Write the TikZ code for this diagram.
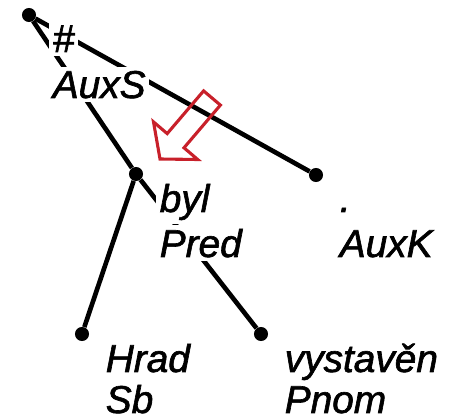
\documentclass[tikz,border=0pt]{standalone}
\usepackage{fontspec}
\setmainfont{Liberation Sans}
\newfontfamily\treefont[BoldFont=Liberation Sans Italic, BoldFeatures={FakeBold=1.6}]{Liberation Sans Italic}
\definecolor{markred}{RGB}{200,32,42}

\begin{document}
\begin{tikzpicture}[
  x=0.025cm, y=0.025cm,
  dot/.style={circle, fill=black, inner sep=0pt, minimum size=10pt},
  edge/.style={line width=3.3pt, black},
  lbl/.style={fill=white, inner sep=2.5pt, anchor=base west, font=\fontsize{27.6}{32}\selectfont\treefont\bfseries},
  pointer/.style={draw=markred, line width=2.2pt, line join=miter}
]
  \useasboundingbox (0,0) rectangle (450,-420);

  % tree nodes
  \node[dot] (root) at (29,-15) {};
  \node[dot] (byl)  at (136,-174) {};
  \node[dot] (auxk) at (316,-175) {};
  \node[dot] (hrad) at (82,-334) {};
  \node[dot] (vyst) at (261,-334) {};

  % dependencies
  \draw[edge] (root) -- (byl);
  \draw[edge] (root) -- (auxk);
  \draw[edge] (byl) -- (hrad);
  \draw[edge] (byl) -- (vyst);

  % word form and afun under each node
  \node[lbl] (rootw) at ([shift={(20,-37)}]root) {\#};
  \node[lbl] (roott) at ([shift={(0,-46)}]rootw.base west) {AuxS};
  \node[lbl] (bylw)  at ([shift={(20,-38)}]byl) {byl};
  \node[lbl] (bylt)  at ([shift={(0,-45)}]bylw.base west) {Pred};
  \node[lbl] (auxkw) at ([shift={(20,-37)}]auxk) {.};
  \node[lbl] (auxkt) at ([shift={(0,-45)}]auxkw.base west) {AuxK};
  \node[lbl] (hradw) at ([shift={(20,-38)}]hrad) {Hrad};
  \node[lbl] (hradt) at ([shift={(0,-41)}]hradw.base west) {Sb};
  \node[lbl] (vystw) at ([shift={(20,-38)}]vyst) {vystavěn};
  \node[lbl] (vystt) at ([shift={(0,-41)}]vystw.base west) {Pnom};

  % red pointer arrow
  \draw[pointer] (220.4,-105.1) -- (203.6,-90.9) -- (167.2,-133.6) -- (153.5,-121.9)
    -- (160,-159) -- (197.7,-159.5) -- (184,-147.8) -- cycle;
\end{tikzpicture}
\end{document}
